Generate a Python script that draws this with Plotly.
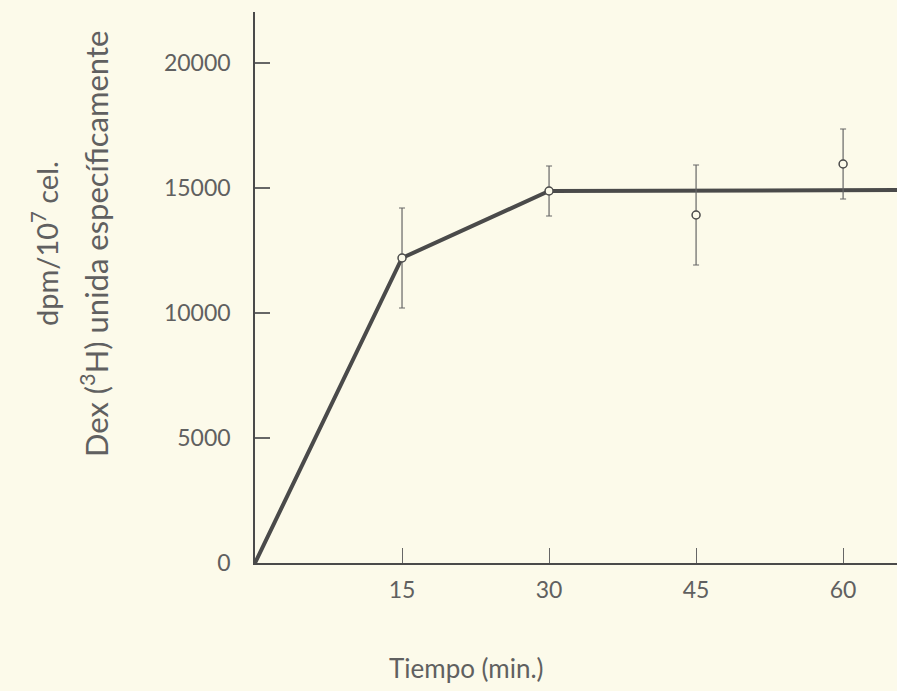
import plotly.graph_objects as go

# Data
time_pts = [15, 30, 45, 60]
dpm_pts = [12200, 14880, 13920, 15960]
dpm_err = [2000, 1000, 2000, 1400]

curve_x = [0, 15, 30, 70]
curve_y = [0, 12200, 14880, 14920]

x_ticks = [15, 30, 45, 60]
y_ticks = [0, 5000, 10000, 15000, 20000]

BG = "#fcfaea"
INK = "#4a4a4a"
TXT = "#606060"
FONT = "Lato"

fig = go.Figure()
fig.add_trace(go.Scatter(
    x=curve_x, y=curve_y, mode="lines",
    line=dict(color=INK, width=4), showlegend=False, hoverinfo="skip",
))
fig.add_trace(go.Scatter(
    x=time_pts, y=dpm_pts, mode="markers",
    marker=dict(symbol="circle", size=8, color=BG, line=dict(color=INK, width=1.5)),
    error_y=dict(type="data", array=dpm_err, visible=True, color="#666", thickness=1.2, width=3),
    showlegend=False,
))

tickfont = dict(size=23, color=TXT, family=FONT)

fig.update_layout(
    width=897, height=691,
    margin=dict(l=255, r=0, t=12, b=128),
    paper_bgcolor=BG, plot_bgcolor=BG,
    font=dict(family=FONT, color=TXT, size=18),
    xaxis=dict(
        range=[0, 65.5], tickvals=x_ticks, ticktext=[str(v) for v in x_ticks],
        showgrid=False, zeroline=False, showline=True, linecolor=INK, linewidth=1.5,
        ticks="inside", ticklen=15, tickcolor="#666", tickwidth=1,
        tickfont=tickfont, ticklabelstandoff=6,
    ),
    yaxis=dict(
        range=[0, 22040], tickvals=y_ticks, ticktext=[str(v) for v in y_ticks],
        showgrid=False, zeroline=False, showline=True, linecolor=INK, linewidth=1.5,
        ticks="inside", ticklen=15, tickcolor="#666", tickwidth=1.5,
        tickfont=tickfont, ticklabelstandoff=18,
    ),
    annotations=[
        dict(text="Tiempo (min.)", xref="paper", yref="paper", x=0.329, y=-0.19,
             xanchor="center", yanchor="middle", showarrow=False,
             font=dict(size=26, color=TXT, family=FONT)),
        dict(text="dpm/10<sup>7</sup> cel.", xref="paper", yref="paper", x=-0.327, y=0.579,
             xanchor="center", yanchor="middle", showarrow=False, textangle=-90,
             font=dict(size=29, color=TXT, family=FONT)),
        dict(text="Dex (<sup>3</sup>H) unida específicamente", xref="paper", yref="paper",
             x=-0.249, y=0.579, xanchor="center", yanchor="middle", showarrow=False,
             textangle=-90, font=dict(size=31, color=TXT, family=FONT)),
    ],
)

fig.write_html("out.html")
